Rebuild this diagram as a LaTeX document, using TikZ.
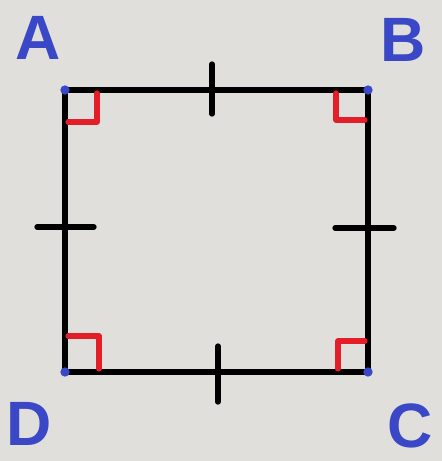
\documentclass[tikz,border=0pt]{standalone}
\usepackage{fontspec}
\setmainfont{Liberation Sans}
\definecolor{bg}{RGB}{225,223,219}
\definecolor{lblue}{RGB}{58,72,200}
\definecolor{rmark}{RGB}{228,30,40}
\begin{document}
\begin{tikzpicture}[x=0.75pt,y=-0.75pt,
  side/.style={line width=4.5pt,black},
  tick/.style={line width=4pt,black,line cap=round},
  rangle/.style={line width=3.8pt,rmark,line cap=round,line join=round},
  vlabel/.style={text=lblue,font=\fontsize{47}{47}\selectfont\bfseries,inner sep=0pt},
  vdot/.style={circle,fill=lblue,inner sep=0pt,minimum size=7pt}]
\fill[bg] (0,0) rectangle (442,461);
\useasboundingbox (0,0) rectangle (442,461);
\coordinate (A) at (65,90);
\coordinate (B) at (368,90);
\coordinate (C) at (368,372);
\coordinate (D) at (65,372);
\draw[side] (A) -- (B) -- (C) -- (D) -- cycle;
% right angle marks
\draw[rangle] (68,122) -- (97,122) -- (97,93);
\draw[rangle] (336,93) -- (336,120) -- (365,120);
\draw[rangle] (338,369) -- (338,341) -- (365,341);
\draw[rangle] (68,336) -- (99,336) -- (99,369);
% ticks
\coordinate (t1a) at (212,64); \coordinate (t1b) at (212,114);
\coordinate (t2a) at (218,346); \coordinate (t2b) at (218,402);
\coordinate (t3a) at (37,227); \coordinate (t3b) at (94,227);
\coordinate (t4a) at (335,228); \coordinate (t4b) at (394,228);
\draw[tick] (t1a) -- (t1b);
\draw[tick] (t2a) -- (t2b);
\draw[tick] (t3a) -- (t3b);
\draw[tick] (t4a) -- (t4b);
% dots
\node[vdot] (dA) at (A) {};
\node[vdot] (dB) at (B) {};
\node[vdot] (dC) at (C) {};
\node[vdot] (dD) at (D) {};
% labels
\node[vlabel] (lA) at (38,38) {A};
\node[vlabel] (lB) at (403,40) {B};
\node[vlabel] (lC) at (410,426) {C};
\node[vlabel] (lD) at (29,424) {D};
\end{tikzpicture}
\end{document}
